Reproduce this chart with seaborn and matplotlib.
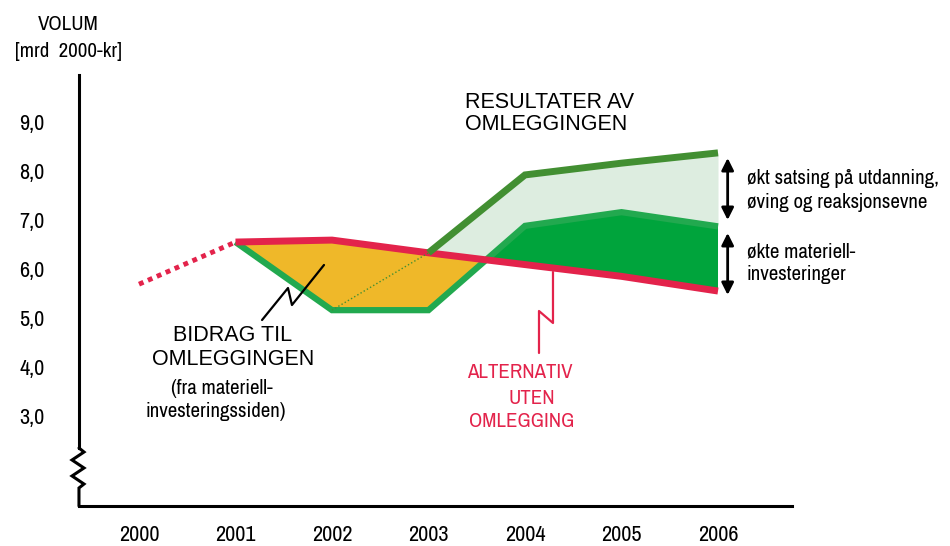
import numpy as np
import matplotlib
matplotlib.use("Agg")
import matplotlib.pyplot as plt
import seaborn as sns

# data (mrd 2000-kr)
years = [2000, 2001, 2002, 2003, 2004, 2005, 2006]
alt_years = [2001, 2002, 2003, 2004, 2005, 2006]
alternativ = [6.55, 6.59, 6.33, 6.09, 5.85, 5.55]      # alternativ uten omlegging
alt_hist_years = [2000, 2001]
alt_hist = [5.69, 6.55]
materiell = [6.55, 5.16, 5.16, 6.88, 7.16, 6.87]       # materiellinvesteringer
res_years = [2003, 2004, 2005, 2006]
resultat = [6.33, 7.92, 8.16, 8.37]                    # med utdanning/øving
res_link_years = [2002, 2003]
res_link = [5.16, 6.33]
y_ticks = [3, 4, 5, 6, 7, 8, 9]

RED = "#e3234b"
ORANGE = "#efb829"
GREEN = "#22a94f"
DARK_FILL = "#00a43c"
TOP = "#428f32"
LIGHT = "#ddede0"

sns.set_style("white")
narrow = ["Liberation Sans Narrow", "Archivo Narrow", "DejaVu Sans"]
wide = ["Liberation Sans", "Arimo", "DejaVu Sans"]
plt.rcParams["font.family"] = narrow
plt.rcParams["text.color"] = "black"

fig = plt.figure(figsize=(9.5, 5.46), dpi=100)
ax = fig.add_axes([0, 0, 1, 1])
ax.set_xlim(1998.5596, 2008.4041)
ax.set_ylim(0.3469, 11.4898)

# fills
ax.fill_between(res_years, resultat, materiell[2:], color=LIGHT, lw=0, zorder=1)
a = np.array(alternativ)
m = np.array(materiell)
ax.fill_between(alt_years, a, m, where=a >= m, interpolate=True, color=ORANGE, lw=0, zorder=2)
ax.fill_between(alt_years, a, m, where=m >= a, interpolate=True, color=DARK_FILL, lw=0, zorder=2)

# lines
sns.lineplot(x=alt_years, y=materiell, ax=ax, color=GREEN, lw=4.5, zorder=3,
             solid_capstyle="butt", solid_joinstyle="miter")
sns.lineplot(x=alt_years, y=alternativ, ax=ax, color=RED, lw=5, zorder=4,
             solid_capstyle="butt", solid_joinstyle="miter")
sns.lineplot(x=alt_hist_years, y=alt_hist, ax=ax, color=RED, lw=3.5, zorder=4)
ax.lines[-1].set_dashes((1, 1))
sns.lineplot(x=res_link_years, y=res_link, ax=ax, color=TOP, lw=1, zorder=4, linestyle=":")
sns.lineplot(x=res_years, y=resultat, ax=ax, color=TOP, lw=5, zorder=5,
             solid_capstyle="butt", solid_joinstyle="miter")

# axes
for s in ["top", "right"]:
    ax.spines[s].set_visible(False)
ax.spines["left"].set_position(("data", 1999.378))
ax.spines["left"].set_bounds(2.347, 9.959)
ax.spines["bottom"].set_position(("data", 1.163))
ax.spines["bottom"].set_bounds(1999.378, 2006.767)
for s in ["left", "bottom"]:
    ax.spines[s].set_linewidth(2.2)
    ax.spines[s].set_color("black")
# axis break zigzag
ax.plot([1999.378, 1999.430, 1999.306, 1999.430, 1999.306, 1999.430, 1999.378, 1999.378],
        [2.347, 2.265, 2.102, 1.939, 1.776, 1.612, 1.531, 1.163],
        color="black", lw=2.2, clip_on=False, solid_joinstyle="miter")

ax.set_xticks(years)
ax.set_xticklabels([str(y) for y in years])
ax.set_yticks(y_ticks)
ax.set_yticklabels([f"{v:.1f}".replace(".", ",") for v in y_ticks])
ax.tick_params(axis="both", direction="inout", length=10, width=2, labelsize=16,
               colors="black", labelcolor="black")
ax.tick_params(axis="y", pad=20)
ax.tick_params(axis="x", pad=9)
ax.set_xlabel("")
ax.set_ylabel("")

# titles / labels
ax.text(1999.264, 10.98, "VOLUM", ha="center", va="center", fontsize=15, family=narrow)
ax.text(1999.264, 10.43, "[mrd  2000-kr]", ha="center", va="center", fontsize=15, family=narrow)

ax.text(2003.378, 9.388, "RESULTATER AV", ha="left", va="center", fontsize=15.5, family=wide)
ax.text(2003.378, 8.94, "OMLEGGINGEN", ha="left", va="center", fontsize=15.5, family=wide)

ax.text(2000.974, 4.633, "BIDRAG TIL", ha="center", va="center", fontsize=15.5, family=wide)
ax.text(2000.980, 4.143, "OMLEGGINGEN", ha="center", va="center", fontsize=15.5, family=wide)
ax.text(2000.86, 3.571, "(fra materiell-", ha="center", va="center", fontsize=15, family=narrow)
ax.text(2000.80, 3.082, "investeringssiden)", ha="center", va="center", fontsize=15, family=narrow)

ax.text(2003.948, 3.878, "ALTERNATIV", ha="center", va="center", fontsize=15, family=narrow, color=RED)
ax.text(2004.07, 3.367, "UTEN", ha="center", va="center", fontsize=15, family=narrow, color=RED)
ax.text(2003.969, 2.878, "OMLEGGING", ha="center", va="center", fontsize=15, family=narrow, color=RED)

ax.text(2006.30, 7.857, "økt satsing på utdanning,", ha="left", va="center", fontsize=15, family=narrow)
ax.text(2006.30, 7.367, "øving og reaksjonsevne", ha="left", va="center", fontsize=15, family=narrow)
ax.text(2006.30, 6.347, "økte materiell-", ha="left", va="center", fontsize=15, family=narrow)
ax.text(2006.30, 5.878, "investeringer", ha="left", va="center", fontsize=15, family=narrow)

# zigzag pointers
ax.plot([2001.917, 2001.585, 2001.544, 2001.275], [6.082, 5.265, 5.612, 4.959],
        color="black", lw=1.6, zorder=6)
ax.plot([2004.290, 2004.290, 2004.145, 2004.145], [5.939, 4.898, 5.143, 4.286],
        color=RED, lw=1.6, zorder=6)

# double arrows
for y0, y1 in [(8.265, 7.0), (6.735, 5.47)]:
    ax.annotate("", xy=(2006.10, y0), xytext=(2006.10, y1),
                arrowprops=dict(arrowstyle="<|-|>", color="black", lw=2,
                                mutation_scale=18, shrinkA=0, shrinkB=0))

fig.savefig("out.png", dpi=100)
